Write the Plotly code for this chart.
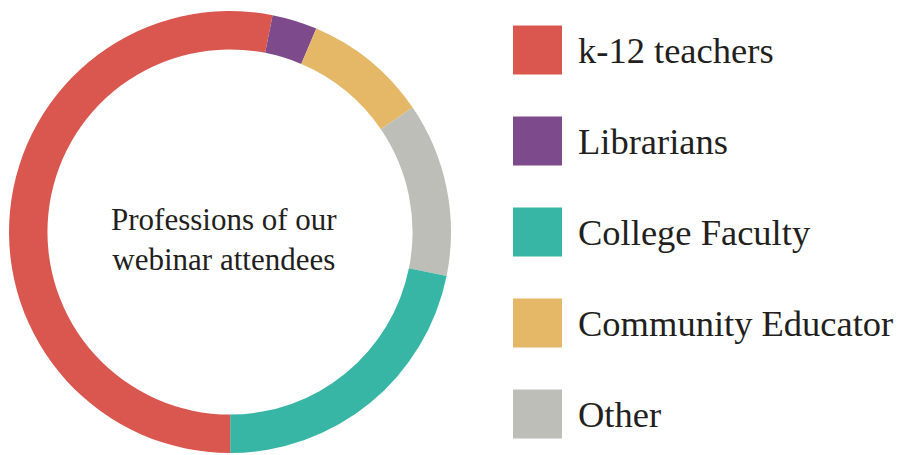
import plotly.graph_objects as go

# Data (slice order as drawn clockwise, starting from Librarians)
slice_labels = ["Librarians", "Community Educator", "Other", "College Faculty", "k-12 teachers"]
slice_values = [3.3, 9.1, 12.7, 21.8, 53.1]
slice_colors = ["#7D4A8B", "#E5B867", "#BEBEB8", "#37B5A5", "#D9574F"]

# Legend order
legend_labels = ["k-12 teachers", "Librarians", "College Faculty", "Community Educator", "Other"]
legend_colors = ["#D9574F", "#7D4A8B", "#37B5A5", "#E5B867", "#BEBEB8"]

center_text = "Professions of our<br>webinar attendees"

W, H = 905, 455
FONT = "Liberation Serif"
TXT = "#231F20"
TEXT_DY = 0.04  # small vertical nudge of legend labels (in legend-row units)

fig = go.Figure()

fig.add_trace(go.Pie(
    labels=slice_labels,
    values=slice_values,
    marker=dict(colors=slice_colors, line=dict(width=0)),
    hole=0.826,
    sort=False,
    direction="clockwise",
    rotation=11.1,
    textinfo="none",
    hoverinfo="label+percent",
    showlegend=False,
    domain=dict(x=[8 / W, 452 / W], y=[1 - 453 / H, 1 - 11 / H]),
))

idx = list(range(len(legend_labels)))
fig.add_trace(go.Scatter(
    x=[537.5] * len(idx), y=idx,
    mode="markers",
    marker=dict(symbol="square", size=49, color=legend_colors, line=dict(width=0)),
    hoverinfo="skip", showlegend=False,
))
fig.add_trace(go.Scatter(
    x=[578] * len(idx), y=[i + TEXT_DY for i in idx],
    mode="text",
    text=legend_labels,
    textposition="middle right",
    textfont=dict(family=FONT, size=36.5, color=TXT),
    hoverinfo="skip", showlegend=False,
))

fig.add_annotation(
    text=center_text, xref="paper", yref="paper",
    x=224 / W, y=1 - 239 / H, xanchor="center", yanchor="middle",
    showarrow=False, align="center",
    font=dict(family=FONT, size=31, color=TXT),
)

fig.update_layout(
    width=W, height=H,
    margin=dict(l=0, r=0, t=0, b=0),
    paper_bgcolor="white", plot_bgcolor="white",
    xaxis=dict(range=[0, W], visible=False, fixedrange=True),
    yaxis=dict(range=[4.45, -0.549], visible=False, fixedrange=True),
)

fig.write_html("out.html")
